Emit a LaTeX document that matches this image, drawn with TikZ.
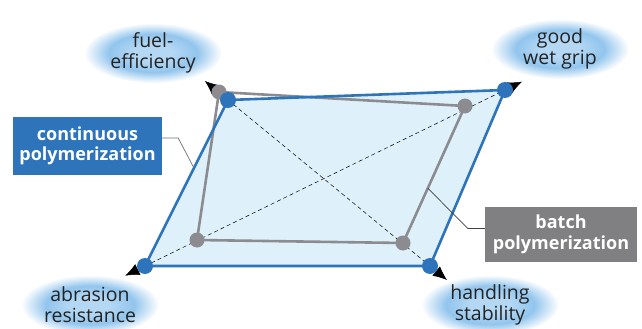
\documentclass[tikz,border=0pt]{standalone}
\usepackage{fontspec}
\setmainfont{Open Sans}
\usetikzlibrary{shapes.geometric,arrows.meta,calc}
\definecolor{blueC}{RGB}{46,116,186}
\definecolor{grayL}{RGB}{140,140,144}
\definecolor{grayBox}{RGB}{128,128,130}
\definecolor{fillC}{RGB}{222,240,250}
\definecolor{ellin}{RGB}{180,216,244}
\definecolor{ellring}{RGB}{146,197,237}
\definecolor{txt}{RGB}{35,35,35}
\pgfdeclareradialshading{ellfade}{\pgfpoint{0bp}{0bp}}{color(0bp)=(ellin); color(7bp)=(ellin); color(16bp)=(ellring); color(25bp)=(white); color(50bp)=(white)}
\tikzset{
  ell/.style={ellipse, shading=ellfade, minimum width=138pt, minimum height=60pt, align=center, text=txt, font=\fontsize{19.5}{21}\selectfont, inner sep=0pt},
  tag/.style={rectangle, text=white, align=center, font=\bfseries\fontsize{18}{20.5}\selectfont, inner sep=0pt},
  bdot/.style={circle, fill=blueC, minimum size=16pt, inner sep=0pt},
  gdot/.style={circle, fill=grayL, minimum size=15pt, inner sep=0pt},
  axis/.style={black, line width=0.5pt, dash pattern=on 4pt off 3pt},
  tip/.style={black, line width=0.5pt, -{Latex[length=14pt,width=12pt]}},
  bline/.style={blueC, line width=2.6pt, line join=round},
  gline/.style={grayL, line width=2.6pt, line join=round},
  leader/.style={line width=0.7pt}
}
\begin{document}
\begin{tikzpicture}[x=1pt,y=-1pt]
\useasboundingbox (0,0) rectangle (642,329);
% ellipses
\node[ell] (fuel) at (153,53) {fuel-\\efficiency};
\node[ell] (grip) at (560,49) {good\\wet grip};
\node[ell] (abr) at (90,305) {abrasion\\resistance};
\node[ell] (hand) at (490,305) {handling\\stability};
% corners
\coordinate (bTL) at (228,100);
\coordinate (bTR) at (505,90);
\coordinate (bBR) at (430,266);
\coordinate (bBL) at (145,266);
\coordinate (gTL) at (219,92);
\coordinate (gTR) at (465,106);
\coordinate (gBR) at (403,243);
\coordinate (gBL) at (197,240);
% fill
\fill[fillC] (bTL) -- (bTR) -- (bBR) -- (bBL) -- cycle;
% axes
\draw[axis] (bBL) -- (bTR);
\draw[axis] (bTL) -- (bBR);
\coordinate (aTL) at ($(bTL)!-30pt!(bBR)$);
\coordinate (aTR) at ($(bTR)!-19pt!(bBL)$);
\coordinate (aBL) at ($(bBL)!-22pt!(bTR)$);
\coordinate (aBR) at ($(bBR)!-22pt!(bTL)$);
\draw[tip] (bTL) -- (aTL);
\draw[tip] (bTR) -- (aTR);
\draw[tip] (bBL) -- (aBL);
\draw[tip] (bBR) -- (aBR);
% gray polygon
\draw[gline] (gTL) -- (gTR) -- (gBR) -- (gBL) -- cycle;
% blue polygon
\draw[bline] (bTL) -- (bTR) -- (bBR) -- (bBL) -- cycle;
% boxes
\node[tag, fill=blueC, minimum width=149pt, minimum height=58pt] (cont) at (87.5,146) {continuous\\polymerization};
\node[tag, fill=grayBox, minimum width=152pt, minimum height=55pt] (batch) at (561,234.5) {batch\\polymerization};
% leaders
\coordinate (lc) at ($(bTL)!0.41!(bBL)$);
\coordinate (lb) at ($(gTR)!0.6!(gBR)$);
\draw[leader, grayL!80!black] ([yshift=8pt]cont.east) -- ++(16,0) -- (lc);
\draw[leader, black!75] ([yshift=6pt]batch.west) -- ++(-17,0) -- (lb);
% dots
\node[gdot] (dTLg) at (gTL) {};
\node[gdot] (dTRg) at (gTR) {};
\node[gdot] (dBRg) at (gBR) {};
\node[gdot] (dBLg) at (gBL) {};
\node[bdot] (dTL) at (bTL) {};
\node[bdot] (dTR) at (bTR) {};
\node[bdot] (dBR) at (bBR) {};
\node[bdot] (dBL) at (bBL) {};
\end{tikzpicture}
\end{document}
